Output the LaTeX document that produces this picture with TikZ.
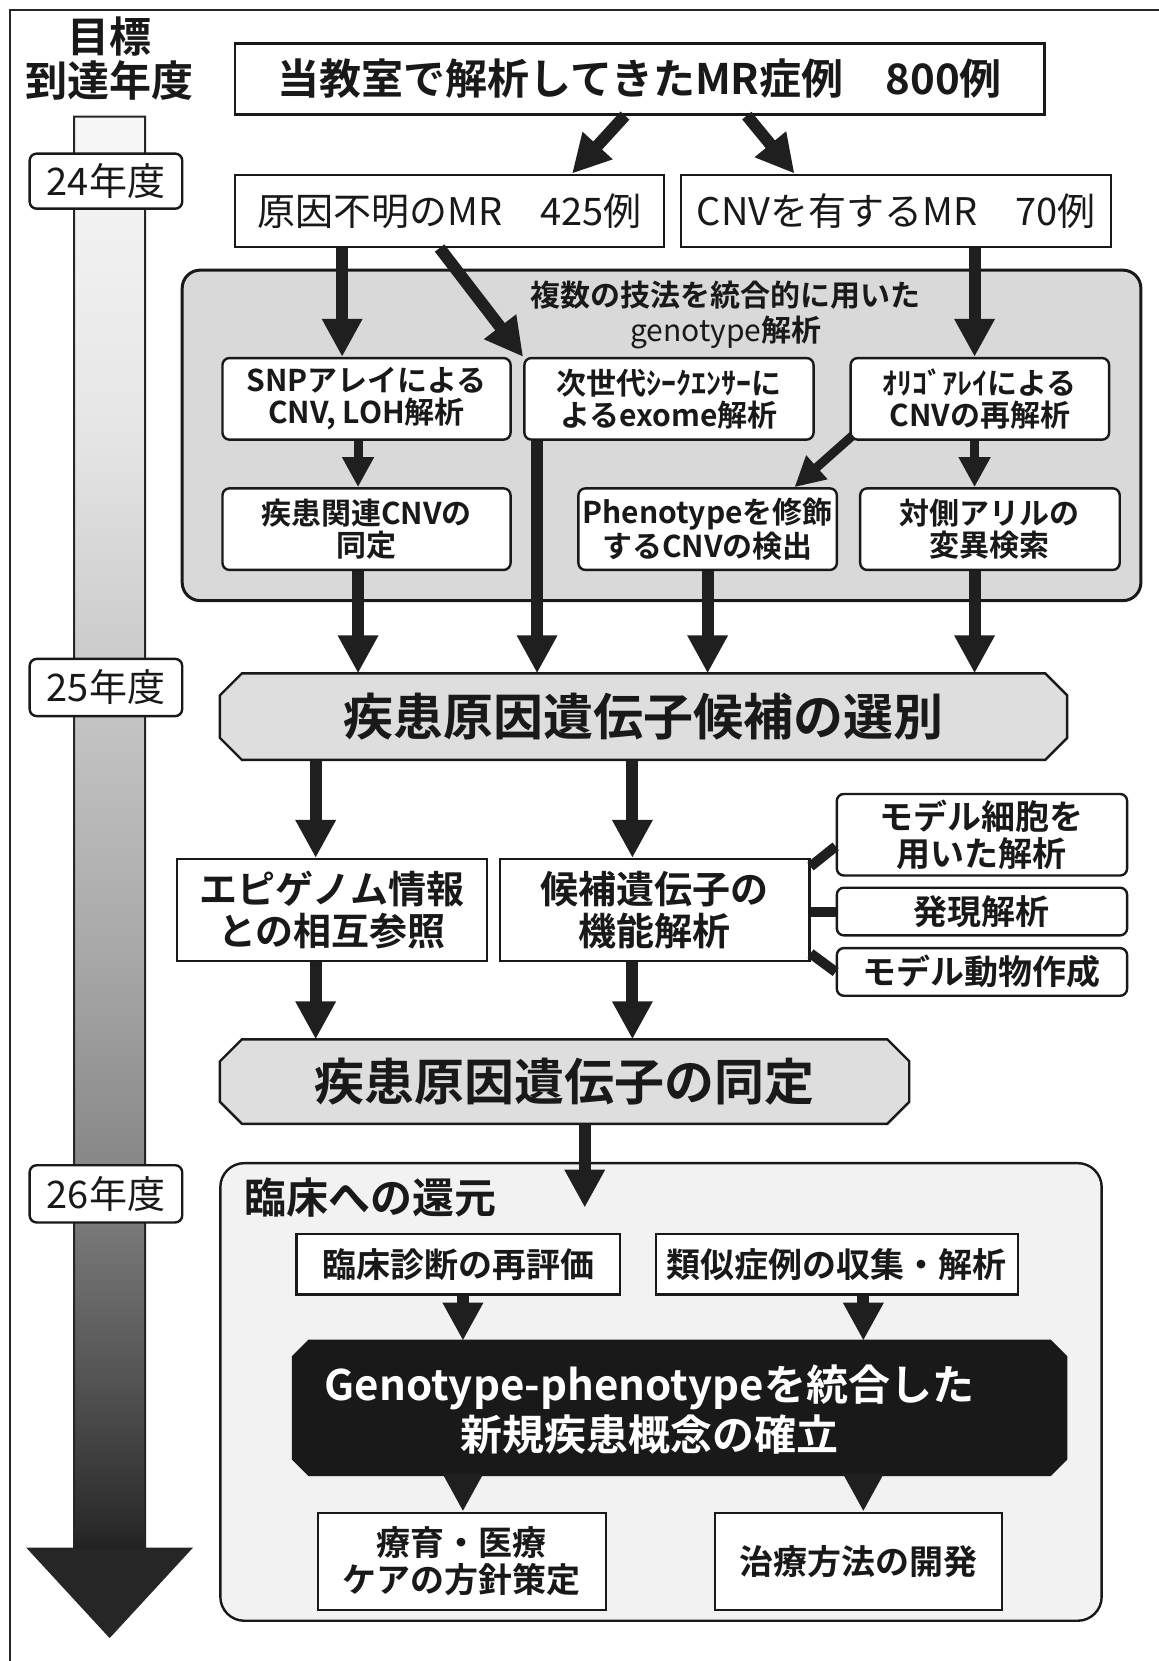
\documentclass[tikz,border=0pt]{standalone}
\usepackage{fontspec}
\setmainfont{Noto Sans CJK JP}[BoldFont={Noto Sans CJK JP Bold}]
\usetikzlibrary{arrows.meta}
\pgfdeclarelayer{background}
\pgfdeclarelayer{mid}
\pgfsetlayers{background,mid,main}
\def\u{0.5297pt}
\pgfdeclareverticalshading{timeline}{100bp}{color(0bp)=(black!87); color(25bp)=(black!87); color(25.8bp)=(black!83); color(31bp)=(black!67); color(38.4bp)=(black!47); color(45.8bp)=(black!34); color(55bp)=(black!22); color(64bp)=(black!10); color(75bp)=(black!3); color(100bp)=(black!3)}
\tikzset{
  base/.style={draw=black!90, line width=1.2pt, fill=white, inner sep=0pt, align=center, text=black!90},
  sqbox/.style={base},
  rbox/.style={base, rounded corners=3.5pt},
  hexbox/.style={inner sep=0pt, align=center, text=black!90, font=\bfseries\fontsize{25}{28}\selectfont},
  hexdraw/.style={draw=black!90, line width=1.2pt, fill=black!13},
  blackdraw/.style={draw=black!90, line width=1.2pt, fill=black!90},
  bigarr/.style={draw=black!88, line width=6pt, -{Triangle[width=19pt,length=19pt]}},
  smarr/.style={draw=black!88, line width=4.5pt, -{Triangle[width=15pt,length=15pt]}},
  link/.style={draw=black!88, line width=5pt},
  fA/.style={font=\bfseries\fontsize{15}{16}\selectfont},
  fB/.style={font=\bfseries\fontsize{17}{18.5}\selectfont},
  fC/.style={font=\bfseries\fontsize{19}{21}\selectfont},
  fY/.style={font=\fontsize{19}{21}\selectfont},
}
% octagon outline round a named node: #1 style, #2 node, #3 chamfer
\newcommand\octo[3]{%
  \draw[#1] ([xshift=#3]#2.north west) -- ([xshift=-#3]#2.north east) -- ([yshift=-#3]#2.north east) -- ([yshift=#3]#2.south east) -- ([xshift=-#3]#2.south east) -- ([xshift=#3]#2.south west) -- ([yshift=#3]#2.south west) -- ([yshift=-#3]#2.north west) -- cycle;}
\begin{document}
\begin{tikzpicture}[x=\u, y=-\u]
\begin{pgfonlayer}{background}
\fill[white] (0,0) rectangle (1094,1568);
\end{pgfonlayer}
\useasboundingbox (0,0) rectangle (1094,1568);
% frame
\draw[line width=1pt, black!85] (9,1568) -- (9,9) -- (1094,9);
% title
\node[font=\bfseries\fontsize{21}{22}\selectfont, align=center, text=black!90] (goal) at (103,55) {目標\\到達年度};
% timeline arrow
\shade[shading=timeline] (70,110) rectangle (137,1462);
\fill[black!85] (27,1462) -- (180,1462) -- (103.5,1545) -- cycle;
\draw[line width=1pt, black!85] (70,110) -- (137,110) -- (137,1462) -- (180,1462) -- (103.5,1545) -- (27,1462) -- (70,1462) -- cycle;
% year boxes
\node[rbox, fY, minimum width={144*\u}, minimum height={52*\u}] (y24) at (100,171) {24年度};
\node[rbox, fY, minimum width={144*\u}, minimum height={54*\u}] (y25) at (100,649) {25年度};
\node[rbox, fY, minimum width={144*\u}, minimum height={54*\u}] (y26) at (100,1127) {26年度};
% top boxes
\node[sqbox, font=\bfseries\fontsize{21}{24}\selectfont, minimum width={764*\u}, minimum height={67*\u}] (all) at (604,74.5) {当教室で解析してきたMR症例\hspace{1em}800例};
\node[sqbox, fY, minimum width={405*\u}, minimum height={68*\u}] (unk) at (424.5,199) {原因不明のMR\hspace{1em}425例};
\node[sqbox, fY, minimum width={406*\u}, minimum height={68*\u}] (cnv) at (846,199) {CNVを有するMR\hspace{1em}70例};
% genotype panel
\begin{pgfonlayer}{background}
\node[draw=black!90, line width=1.5pt, fill=black!15, rounded corners=9pt, minimum width={905*\u}, minimum height={312*\u}] (panel) at (624.5,411) {};
\end{pgfonlayer}
\node[font=\bfseries\fontsize{15}{17.5}\selectfont, align=center, text=black!90] (plabel) at (685,297.5) {複数の技法を統合的に用いた\\{\mdseries genotype}解析};
\node[rbox, fA, minimum width={272*\u}, minimum height={77*\u}] (snp) at (346,376.5) {SNPアレイによる\\CNV, LOH解析};
\node[rbox, fA, minimum width={273*\u}, minimum height={77*\u}] (ngs) at (631.5,376.5) {次世代ｼｰｸｴﾝｻｰに\\よるexome解析};
\node[rbox, fA, minimum width={244*\u}, minimum height={77*\u}] (oligo) at (925,376.5) {ｵﾘｺﾞｱﾚｲによる\\CNVの再解析};
\node[rbox, fA, minimum width={272*\u}, minimum height={77*\u}] (dcnv) at (346,499.5) {疾患関連CNVの\\同定};
\node[rbox, fA, minimum width={244*\u}, minimum height={77*\u}] (pheno) at (668,499.5) {Phenotypeを修飾\\するCNVの検出};
\node[rbox, fA, minimum width={245*\u}, minimum height={77*\u}] (allele) at (934.5,499.5) {対側アリルの\\変異検索};
% hexagons and middle boxes
\node[hexbox, minimum width={799*\u}, minimum height={81*\u}] (hex1) at (607.5,676.5) {疾患原因遺伝子候補の選別};
\begin{pgfonlayer}{mid}\octo{hexdraw}{hex1}{11pt}\end{pgfonlayer}
\node[sqbox, fC, minimum width={293*\u}, minimum height={96*\u}] (epi) at (313.5,859) {エピゲノム情報\\との相互参照};
\node[sqbox, fC, minimum width={292*\u}, minimum height={96*\u}] (func) at (618,859) {候補遺伝子の\\機能解析};
\node[rbox, fB, minimum width={274*\u}, minimum height={77*\u}] (side1) at (927,788) {モデル細胞を\\用いた解析};
\node[rbox, fB, minimum width={274*\u}, minimum height={45*\u}] (side2) at (927,860.5) {発現解析};
\node[rbox, fB, minimum width={274*\u}, minimum height={45*\u}] (side3) at (927,917.5) {モデル動物作成};
\node[hexbox, minimum width={650*\u}, minimum height={79*\u}] (hex2) at (533,1021) {疾患原因遺伝子の同定};
\begin{pgfonlayer}{mid}\octo{hexdraw}{hex2}{11pt}\end{pgfonlayer}
% clinical panel
\begin{pgfonlayer}{background}
\node[draw=black!90, line width=1.2pt, fill=black!5, rounded corners=12pt, minimum width={832*\u}, minimum height={432*\u}] (panel2) at (624,1314) {};
\end{pgfonlayer}
\node[anchor=west, font=\bfseries\fontsize{21}{24}\selectfont, text=black!90, inner sep=0pt] (p2label) at (230,1130) {臨床への還元};
\node[sqbox, fB, minimum width={305*\u}, minimum height={57*\u}] (diag) at (432.5,1193.5) {臨床診断の再評価};
\node[sqbox, fB, minimum width={342*\u}, minimum height={57*\u}] (sim) at (790,1193.5) {類似症例の収集・解析};
\node[inner sep=0pt, minimum width={729*\u}, minimum height={126*\u}] (concept) at (641.5,1329) {};
\begin{pgfonlayer}{mid}\octo{blackdraw}{concept}{8pt}\end{pgfonlayer}
\node[font=\bfseries\fontsize{21}{25}\selectfont, text=white, align=center, inner sep=0pt] (concepttxt) at (613,1331) {Genotype-phenotypeを統合した\\新規疾患概念の確立};
\node[sqbox, fB, minimum width={272*\u}, minimum height={92*\u}] (care) at (436,1474) {療育・医療\\ケアの方針策定};
\node[sqbox, fB, minimum width={271*\u}, minimum height={92*\u}] (treat) at (810.5,1474) {治療方法の開発};
% column coordinates
\coordinate (cA) at (323,0);
\coordinate (cB) at (920,0);
\coordinate (cC) at (338,0);
\coordinate (cD) at (507,0);
\coordinate (cE) at (668,0);
\coordinate (cF) at (298,0);
\coordinate (cG) at (597,0);
\coordinate (cH) at (437,0);
\coordinate (cI) at (815,0);
\coordinate (tipH) at (552,1140);
% arrows
\draw[bigarr] ([xshift={-14*\u}]all.south) -- ([xshift={115.5*\u}]unk.north);
\draw[bigarr] ([xshift={101*\u}]all.south) -- ([xshift={-96*\u}]cnv.north);
\draw[bigarr] (unk.south -| cA) -- (snp.north -| cA);
\draw[bigarr] ([xshift={-9.5*\u}]unk.south) -- (ngs.north west);
\draw[bigarr] (cnv.south -| cB) -- (oligo.north -| cB);
\draw[smarr] (snp.south -| cC) -- (dcnv.north -| cC);
\draw[smarr] ([xshift={3*\u},yshift={5*\u}]oligo.south west) -- ([xshift={82*\u}]pheno.north);
\draw[smarr] (oligo.south -| cB) -- (allele.north -| cB);
\draw[bigarr] (dcnv.south -| cC) -- (hex1.north -| cC);
\draw[bigarr] (ngs.south -| cD) -- (hex1.north -| cD);
\draw[bigarr] (pheno.south -| cE) -- (hex1.north -| cE);
\draw[bigarr] (allele.south -| cB) -- (hex1.north -| cB);
\draw[bigarr] (hex1.south -| cF) -- (epi.north -| cF);
\draw[bigarr] (hex1.south -| cG) -- (func.north -| cG);
\draw[link] ([yshift={41*\u}]func.east) -- ([yshift={-11*\u}]side1.west);
\draw[link] (func.east |- side2.west) -- (side2.west);
\draw[link] ([yshift={-41*\u}]func.east) -- (side3.west);
\draw[bigarr] (epi.south -| cF) -- (hex2.north -| cF);
\draw[bigarr] (func.south -| cG) -- (hex2.north -| cG);
\draw[bigarr] (hex2.south -| tipH) -- (tipH);
\draw[bigarr] (diag.south -| cH) -- (concept.north -| cH);
\draw[bigarr] (sim.south -| cI) -- (concept.north -| cI);
\draw[bigarr] (concept.south -| cH) -- (care.north -| cH);
\draw[bigarr] (concept.south -| cI) -- (treat.north -| cI);
\end{tikzpicture}
\end{document}
